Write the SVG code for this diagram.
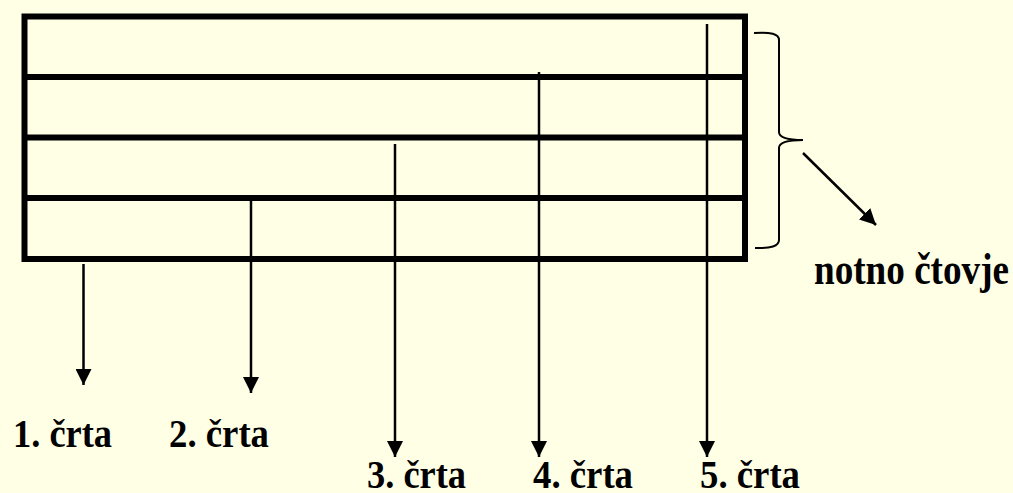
<svg xmlns="http://www.w3.org/2000/svg" width="1013" height="493" viewBox="0 0 1013 493">
<style>
.staff{stroke:#000;stroke-width:6;fill:none}
.conn{stroke:#000;stroke-width:2.5;fill:none}
.lbl{font-family:'Liberation Serif',Tinos,'Times New Roman','DejaVu Serif',serif;font-weight:bold;font-size:40px;fill:#000}
.big{font-size:44px}
</style>
<defs>
<marker id="ah" markerUnits="userSpaceOnUse" markerWidth="16" markerHeight="16" viewBox="0 0 16 16" refX="16" refY="8" orient="auto">
<path d="M0,0 L16,8 L0,16 Z" fill="#000"/>
</marker>
</defs>
<rect width="1013" height="493" fill="#FFFFE5"/>
<g id="staff">
<rect class="staff" x="24.5" y="16.5" width="720.5" height="242.5"/>
<line class="staff" x1="24.5" y1="77" x2="745" y2="77"/>
<line class="staff" x1="24.5" y1="137.5" x2="745" y2="137.5"/>
<line class="staff" x1="24.5" y1="198" x2="745" y2="198"/>
</g>
<g id="brace">
<path d="M754,33 Q779,31 779,40 L779,132 Q779,140 803,140 Q779,140 779,148 L779,240 Q779,249 755,248" stroke="#000" stroke-width="2" fill="none"/>
</g>
<g id="connectors">
<line class="conn" x1="83.5" y1="264" x2="83.5" y2="385" marker-end="url(#ah)"/>
<line class="conn" x1="251" y1="199" x2="251" y2="393" marker-end="url(#ah)"/>
<line class="conn" x1="395" y1="144" x2="395" y2="457" marker-end="url(#ah)"/>
<line class="conn" x1="539" y1="72" x2="539" y2="457" marker-end="url(#ah)"/>
<line class="conn" x1="707" y1="24" x2="707" y2="457" marker-end="url(#ah)"/>
<line class="conn" x1="803" y1="153" x2="876" y2="225" marker-end="url(#ah)"/>
</g>
<g id="label1"><text class="lbl" x="13" y="447" textLength="99" lengthAdjust="spacingAndGlyphs">1. črta</text></g>
<g id="label2"><text class="lbl" x="169" y="447" textLength="100" lengthAdjust="spacingAndGlyphs">2. črta</text></g>
<g id="label3"><text class="lbl" x="367" y="488" textLength="99" lengthAdjust="spacingAndGlyphs">3. črta</text></g>
<g id="label4"><text class="lbl" x="533" y="488" textLength="100" lengthAdjust="spacingAndGlyphs">4. črta</text></g>
<g id="label5"><text class="lbl" x="700" y="488" textLength="100" lengthAdjust="spacingAndGlyphs">5. črta</text></g>
<g id="label-staff"><text class="lbl big" x="814" y="284" textLength="195" lengthAdjust="spacingAndGlyphs">notno čtovje</text></g>
</svg>
